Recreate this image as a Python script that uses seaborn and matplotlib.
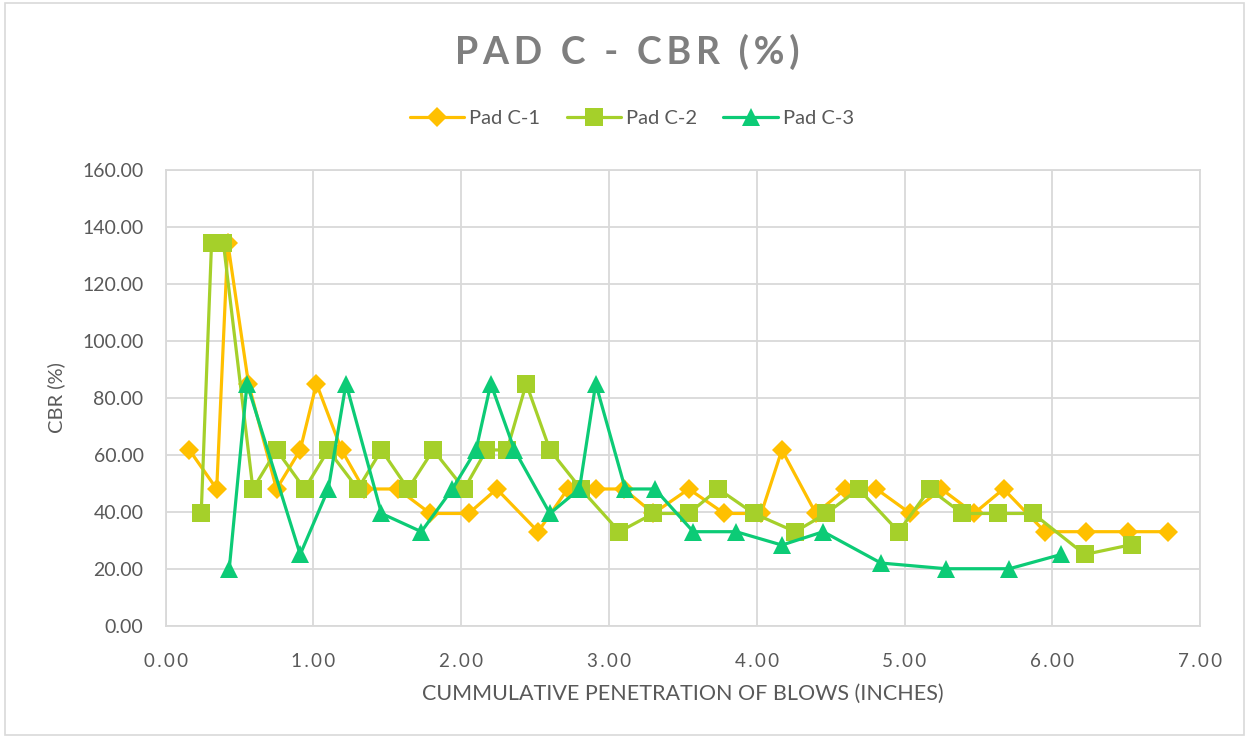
import matplotlib
matplotlib.use("Agg")
import matplotlib.pyplot as plt
import seaborn as sns
import pandas as pd
from matplotlib.patches import Rectangle
from matplotlib.ticker import FuncFormatter

# Cumulative penetration (inches) and CBR (%) for each test pad
pad1_depth = [0.16, 0.345, 0.42, 0.56, 0.75, 0.91, 1.02, 1.19, 1.34, 1.57, 1.79, 2.05,
              2.24, 2.52, 2.72, 2.91, 3.10, 3.30, 3.54, 3.78, 4.03, 4.17, 4.40, 4.60,
              4.81, 5.04, 5.25, 5.47, 5.67, 5.95, 6.23, 6.51, 6.78]
pad1_cbr = [61.7, 48.0, 134.4, 85.0, 48.0, 61.7, 85.0, 61.7, 48.0, 48.0, 39.4, 39.4,
            48.0, 33.0, 48.0, 48.0, 48.0, 39.4, 48.0, 39.4, 39.4, 61.7, 39.4, 48.0,
            48.0, 39.4, 48.0, 39.4, 48.0, 33.0, 33.0, 33.0, 33.0]

pad2_depth = [0.24, 0.31, 0.39, 0.59, 0.75, 0.94, 1.10, 1.30, 1.46, 1.64, 1.81, 2.02,
              2.17, 2.31, 2.44, 2.60, 2.81, 3.07, 3.30, 3.54, 3.74, 3.98, 4.26, 4.47,
              4.69, 4.96, 5.17, 5.39, 5.63, 5.87, 6.22, 6.54]
pad2_cbr = [39.4, 134.4, 134.4, 48.0, 61.7, 48.0, 61.7, 48.0, 61.7, 48.0, 61.7, 48.0,
            61.7, 61.7, 85.0, 61.7, 48.0, 33.0, 39.4, 39.4, 48.0, 39.4, 33.0, 39.4,
            48.0, 33.0, 48.0, 39.4, 39.4, 39.4, 25.0, 28.5]

pad3_depth = [0.43, 0.55, 0.91, 1.10, 1.22, 1.46, 1.73, 1.94, 2.10, 2.20, 2.36, 2.60,
              2.80, 2.91, 3.11, 3.31, 3.57, 3.86, 4.17, 4.45, 4.84, 5.28, 5.71, 6.06]
pad3_cbr = [20.0, 85.0, 25.0, 48.0, 85.0, 39.4, 33.0, 48.0, 61.7, 85.0, 61.7, 39.4,
            48.0, 85.0, 48.0, 48.0, 33.0, 33.0, 28.3, 33.0, 22.0, 20.0, 20.0, 25.0]

series_names = ["Pad C-1", "Pad C-2", "Pad C-3"]
x_ticks = [0, 1, 2, 3, 4, 5, 6, 7]
y_ticks = [0, 20, 40, 60, 80, 100, 120, 140, 160]

frames = []
for name, xs, ys in zip(series_names,
                        [pad1_depth, pad2_depth, pad3_depth],
                        [pad1_cbr, pad2_cbr, pad3_cbr]):
    frames.append(pd.DataFrame({"depth": xs, "cbr": ys, "pad": name}))
df = pd.concat(frames, ignore_index=True)

sns.set_theme(style="white")
plt.rcParams["font.family"] = ["Lato", "DejaVu Sans"]

text_gray = "#595959"
grid_gray = "#D9D9D9"
palette = {"Pad C-1": "#FFC000", "Pad C-2": "#A5D02A", "Pad C-3": "#0CCB76"}
markers = {"Pad C-1": "D", "Pad C-2": "s", "Pad C-3": "^"}
msizes = {"Pad C-1": 10, "Pad C-2": 12.5, "Pad C-3": 13}

fig = plt.figure(figsize=(12.49, 7.38), dpi=100)
fig.patches.append(Rectangle((0.004, 0.004), 0.992, 0.992, transform=fig.transFigure,
                             fill=False, edgecolor=grid_gray, linewidth=1.2))
ax = fig.add_axes([0.1327, 0.1522, 0.8281, 0.6174])

for name in series_names:
    sub = df[df["pad"] == name]
    sns.lineplot(data=sub, x="depth", y="cbr", color=palette[name], marker=markers[name],
                 markersize=msizes[name], markeredgewidth=0, linewidth=2.3,
                 sort=False, estimator=None, label=name, ax=ax)

ax.set_xlim(0, 7)
ax.set_ylim(0, 160)
ax.set_xticks(x_ticks)
ax.set_yticks(y_ticks)
ax.xaxis.set_major_formatter(FuncFormatter(lambda v, p: "\u2009".join(f"{v:.2f}")))
ax.yaxis.set_major_formatter(FuncFormatter(lambda v, p: f"{v:.2f}"))
ax.grid(True, color=grid_gray, linewidth=1.3)
ax.set_axisbelow(True)
for s in ax.spines.values():
    s.set_visible(True)
    s.set_color(grid_gray)
    s.set_linewidth(1.3)
ax.tick_params(axis="both", length=0, colors=text_gray)
ax.tick_params(axis="y", pad=16, labelsize=14)
ax.tick_params(axis="x", pad=20, labelsize=13.5)

ax.set_xlabel("CUMMULATIVE PENETRATION OF BLOWS (INCHES)", color=text_gray,
              fontsize=15.5, labelpad=10)
ax.set_ylabel("CBR (%)", color=text_gray, fontsize=14.5, labelpad=12)

fig.text(0.502, 0.93, "\u2009".join("PAD C - CBR (%)"), ha="center", va="center",
         fontsize=27, fontweight="bold", color="#7F7F7F")

ax.get_legend().remove()
handles, labels = ax.get_legend_handles_labels()
leg = fig.legend(handles, labels, loc="center", bbox_to_anchor=(0.506, 0.84), ncol=3,
                 frameon=False, fontsize=14.5, handlelength=2.7, columnspacing=1.3,
                 handletextpad=0.25)
for t in leg.get_texts():
    t.set_color(text_gray)

fig.savefig("out.png", dpi=100, facecolor="white")
